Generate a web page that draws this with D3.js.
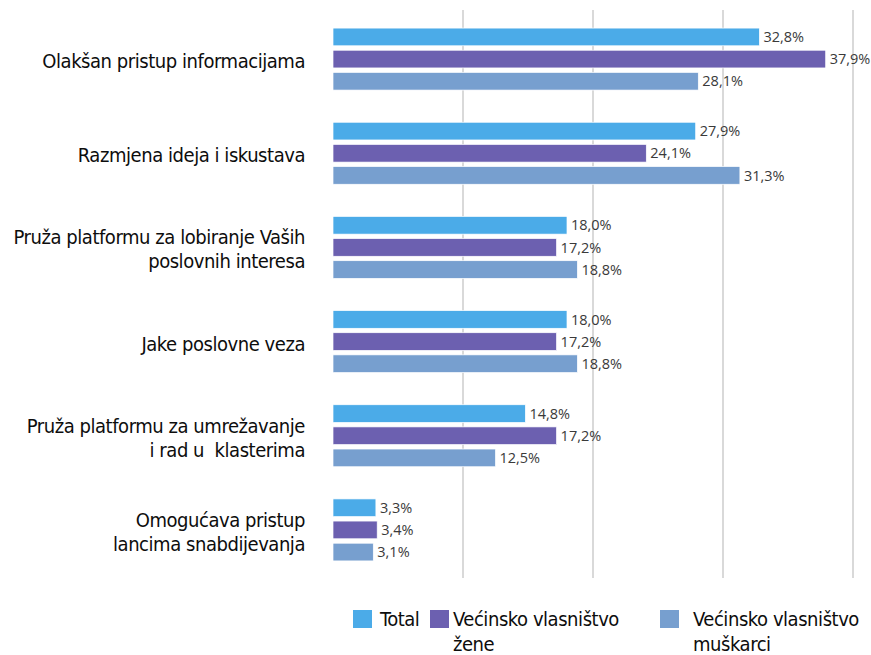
<!DOCTYPE html>
<html>
<head>
<meta charset="utf-8">
<script src="https://cdn.jsdelivr.net/npm/d3@7"></script>
<style>
  body { margin: 0; background: #fff; }
  .cat { font-family: "DejaVu Sans Condensed", "Liberation Sans Narrow", sans-serif; font-size: 20px; letter-spacing: -0.45px; fill: #0d0d0d; white-space: pre; }
  .val { font-family: "Open Sans", sans-serif; font-size: 14.5px; fill: #3a3a3a; }
</style>
</head>
<body>
<div id="paper"></div>
<script>
// grouped horizontal bars, three series per category

const categories = [
  ["Olakšan pristup informacijama"],
  ["Razmjena ideja i iskustava"],
  ["Pruža platformu za lobiranje Vaših", "poslovnih interesa"],
  ["Jake poslovne veza"],
  ["Pruža platformu za umrežavanje", "i rad u  klasterima"],
  ["Omogućava pristup", "lancima snabdijevanja"]
];
const seriesNames = ["Total", "Većinsko vlasništvo žene", "Većinsko vlasništvo muškarci"];
const total = [32.8, 27.9, 18.0, 18.0, 14.8, 3.3];
const zene = [37.9, 24.1, 17.2, 17.2, 17.2, 3.4];
const muskarci = [28.1, 31.3, 18.8, 18.8, 12.5, 3.1];
const gridTicks = [10, 20, 30, 40];
const colours = ["#4BABE8", "#6C60B0", "#779FCF"];

const width = 871, height = 655;
const svg = d3.select("#paper").append("svg")
  .attr("width", width).attr("height", height);

const x = d3.scaleLinear().domain([0, 40]).range([333, 853]);
const y = d3.scaleBand().domain(d3.range(categories.length)).range([12, 577]);
const inner = d3.scaleBand().domain([0, 1, 2]).range([-31, 31]).paddingInner(0.2);

// gridlines
svg.append("g").selectAll("line").data(gridTicks).join("line")
  .attr("x1", d => x(d)).attr("x2", d => x(d))
  .attr("y1", 10).attr("y2", 578)
  .attr("stroke", "#d9d9d9").attr("stroke-width", 2);

const series = [total, zene, muskarci];
const fmt = v => v.toFixed(1).replace(".", ",") + "%";

const groups = svg.append("g").selectAll("g").data(categories).join("g")
  .attr("transform", (d, i) => `translate(0,${y(i) + y.bandwidth() / 2})`);

groups.each(function (cat, i) {
  const g = d3.select(this);
  series.forEach((s, k) => {
    g.append("rect")
      .attr("x", x(0))
      .attr("y", inner(k))
      .attr("width", x(s[i]) - x(0))
      .attr("height", inner.bandwidth())
      .attr("fill", colours[k])
      .attr("stroke", "#fff").attr("stroke-width", 0.7);
    g.append("text").attr("class", "val")
      .attr("x", x(s[i]) + 4)
      .attr("y", inner(k) + inner.bandwidth() / 2)
      .attr("dy", "0.36em")
      .text(fmt(s[i]));
  });
  const lh = 24;
  const t = g.append("text").attr("class", "cat").attr("text-anchor", "end");
  cat.forEach((line, j) => {
    t.append("tspan").attr("x", 305)
      .attr("y", (j - (cat.length - 1) / 2) * lh + 2)
      .attr("dy", "0.35em")
      .text(line);
  });
});

// legend
const legend = [
  { sx: 353, tx: 380, lines: ["Total"] },
  { sx: 430, tx: 453, lines: ["Većinsko vlasništvo", "žene"] },
  { sx: 660, tx: 693, lines: ["Većinsko vlasništvo", "muškarci"] }
];
const lg = svg.append("g");
legend.forEach((d, k) => {
  lg.append("rect").attr("x", d.sx).attr("y", 610)
    .attr("width", 19).attr("height", 18).attr("fill", colours[k]);
  const t = lg.append("text").attr("class", "cat");
  d.lines.forEach((line, j) => {
    t.append("tspan").attr("x", d.tx).attr("y", 626 + j * 25).text(line);
  });
});
</script>
</body>
</html>
